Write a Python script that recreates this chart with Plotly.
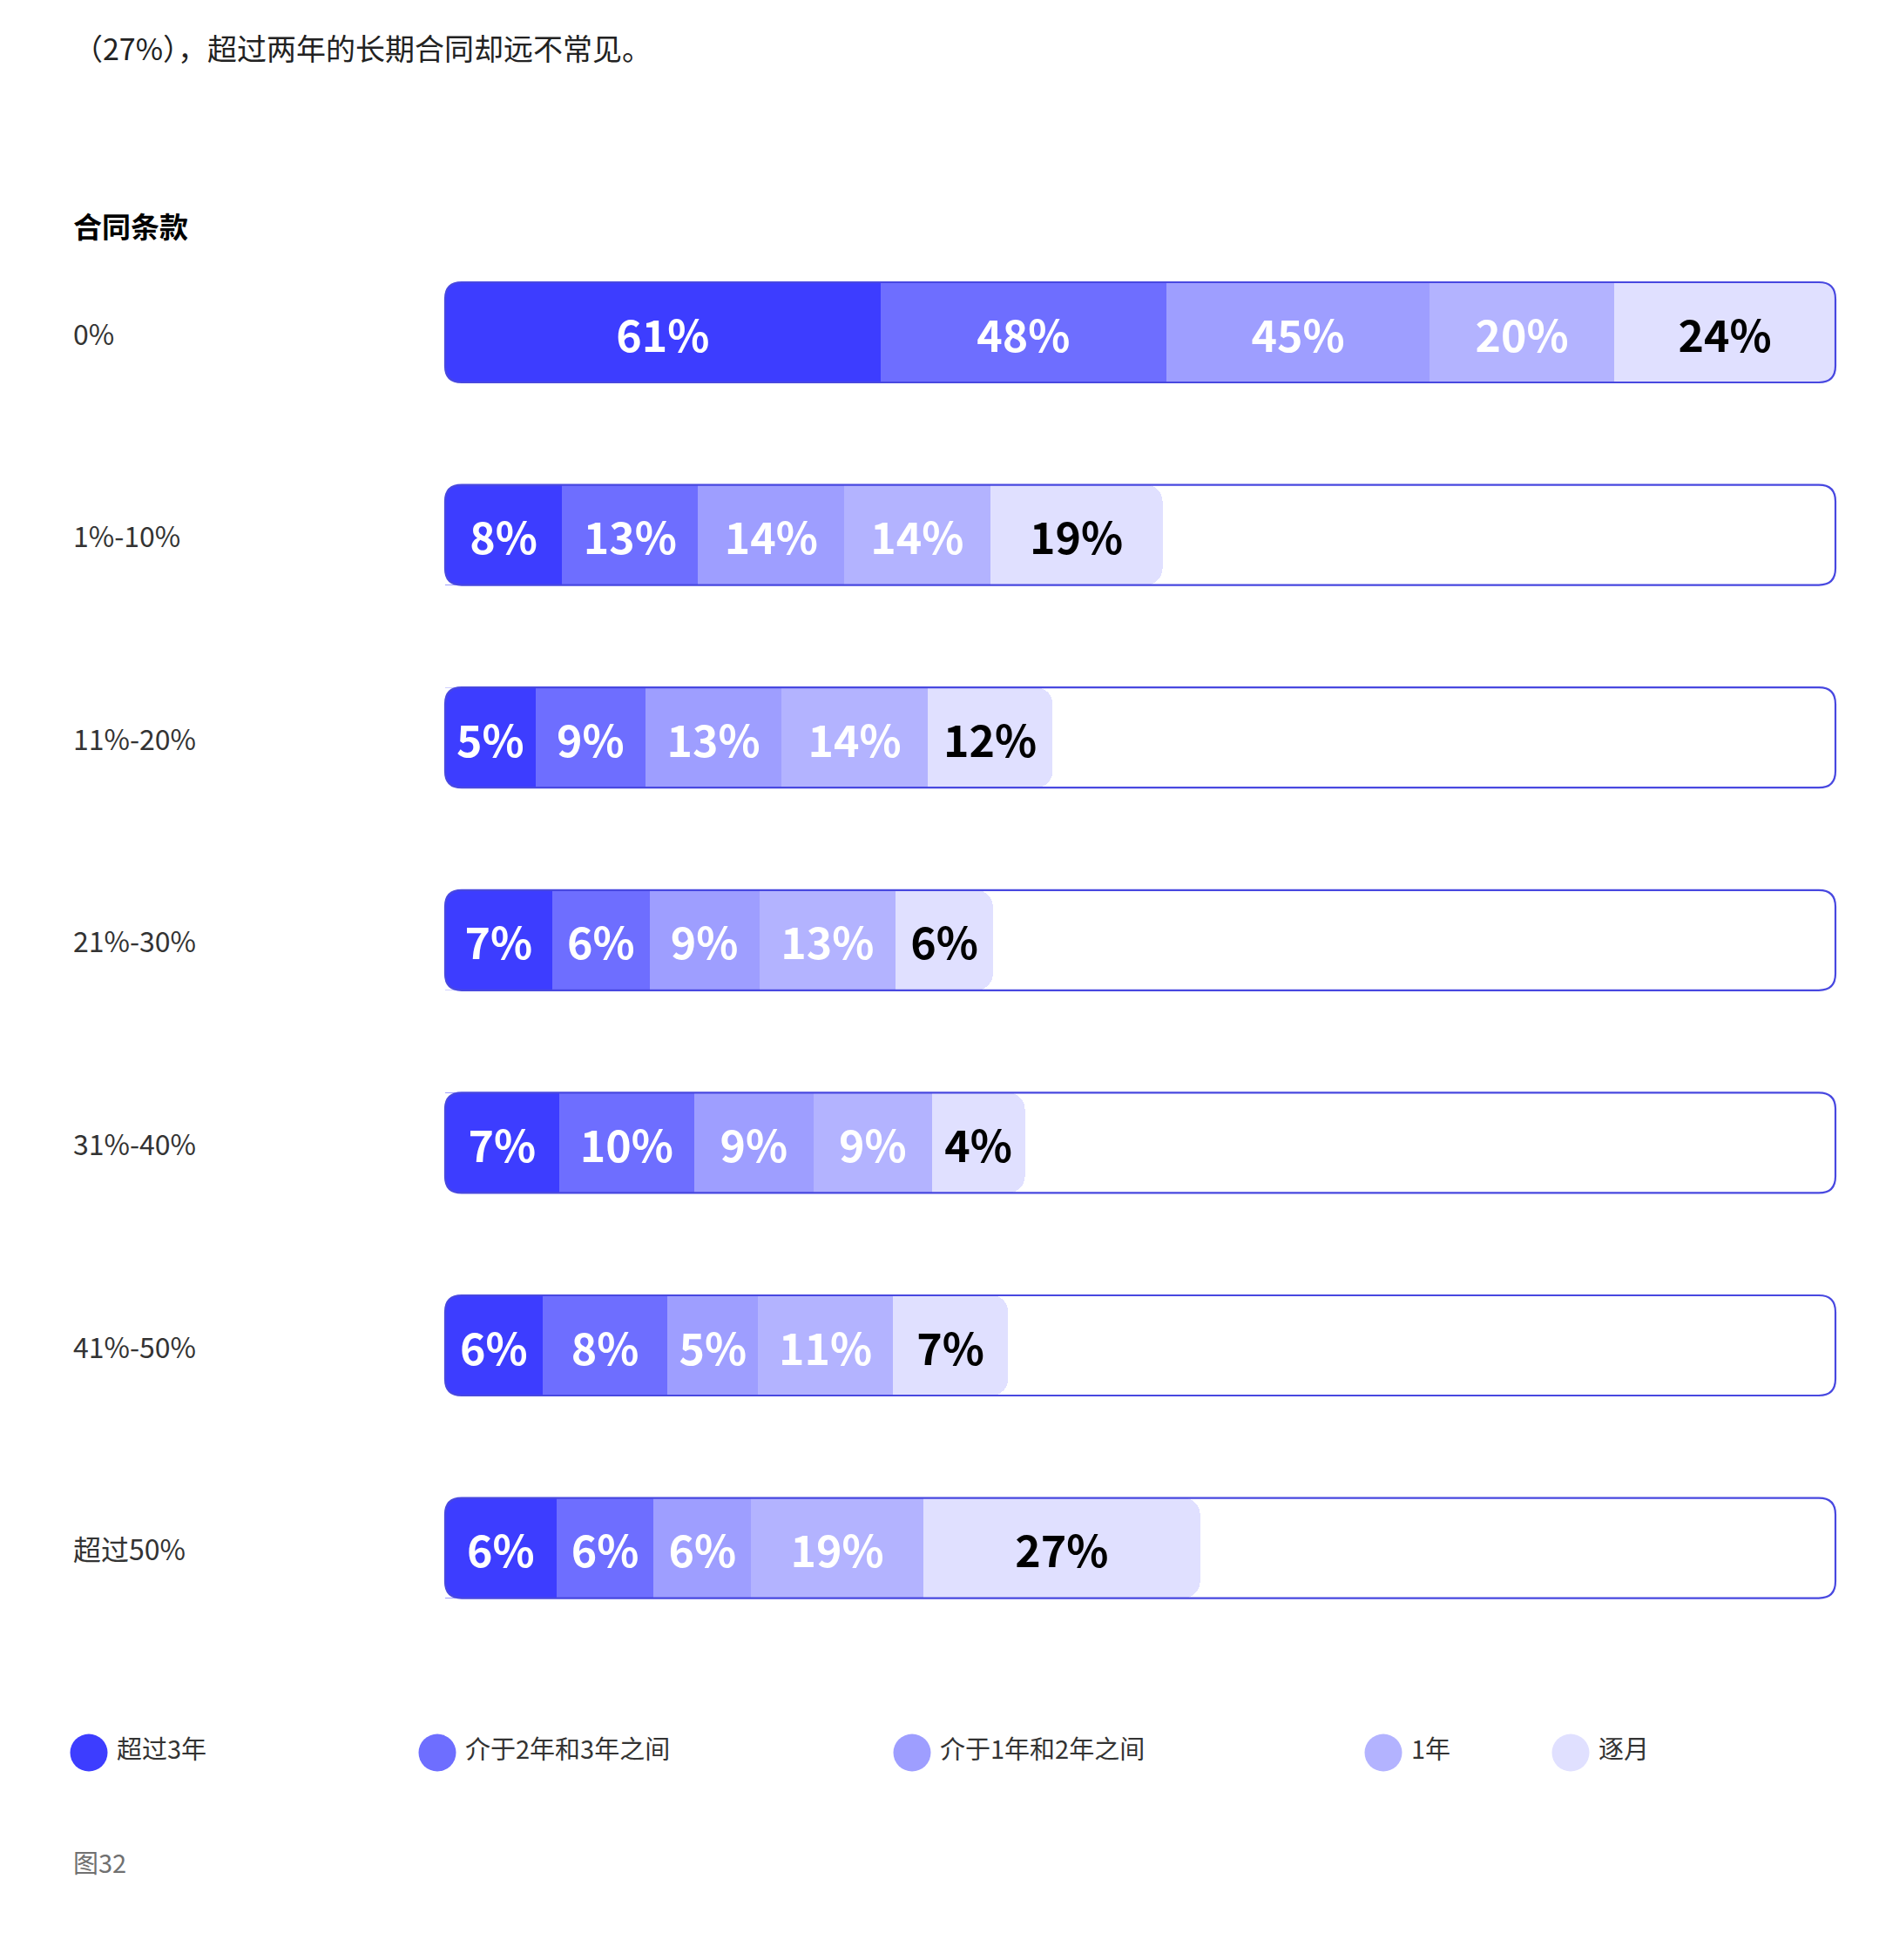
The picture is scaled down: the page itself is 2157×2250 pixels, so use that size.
import plotly.graph_objects as go

# ---------------- data ----------------
intro_text = "（27%），超过两年的长期合同却远不常见。"
section_title = "合同条款"
figure_note = "图32"

categories = ["0%", "1%-10%", "11%-20%", "21%-30%", "31%-40%", "41%-50%", "超过50%"]
series_names = ["超过3年", "介于2年和3年之间", "介于1年和2年之间", "1年", "逐月"]

# printed percentages (each series sums to ~100% over the categories)
pct_over3 = [61, 8, 5, 7, 7, 6, 6]
pct_2to3 = [48, 13, 9, 6, 10, 8, 6]
pct_1to2 = [45, 14, 13, 9, 9, 5, 6]
pct_1yr = [20, 14, 14, 13, 9, 11, 19]
pct_monthly = [24, 19, 12, 6, 4, 7, 27]

# segment lengths as drawn in the original (share of the full track, %)
len_over3 = [31.3, 8.4, 6.5, 7.7, 8.2, 7.0, 8.0]
len_2to3 = [20.6, 9.8, 7.9, 7.0, 9.7, 9.0, 7.0]
len_1to2 = [18.9, 10.5, 9.8, 7.9, 8.6, 6.5, 7.0]
len_1yr = [13.3, 10.5, 10.5, 9.8, 8.5, 9.7, 12.4]
len_monthly = [15.9, 12.4, 9.0, 7.0, 6.7, 8.3, 19.9]

track_max = 100

# ---------------- style / layout ----------------
W, H = 2157, 2250
FONT = "Noto Sans CJK SC"
colors = ["#3d3dff", "#6e6eff", "#9e9eff", "#b3b3ff", "#e0e0ff"]
label_colors = ["white", "white", "white", "white", "black"]
outline_color = "#4848e0"

TRACK_L, TRACK_R = 511, 2107
PAD = 0.4
ppu = (TRACK_R - TRACK_L) / track_max
ROW0, ROW_STEP = 381.5, 232.6
n = len(categories)
top_px = ROW0 - ROW_STEP / 2
bot_px = ROW0 + (n - 1) * ROW_STEP + ROW_STEP / 2
BAR_W = 115 / ROW_STEP
R_PX = 19
rx = R_PX / ppu
ry = R_PX / ROW_STEP
LEFT_PX = 82
legend_x = [102, 502, 1047, 1588, 1803]
LEGEND_TEXT_DX = 32
legend_y_px = 2012

pcts = [pct_over3, pct_2to3, pct_1to2, pct_1yr, pct_monthly]
lens = [len_over3, len_2to3, len_1to2, len_1yr, len_monthly]
rows = list(range(n))

fig = go.Figure()
for name, p, L, c, tc in zip(series_names, pcts, lens, colors, label_colors):
    fig.add_trace(go.Bar(
        y=rows, x=L, orientation="h", name=name,
        width=BAR_W,
        marker=dict(color=c, line=dict(width=0)),
        text=[f"{v}%" for v in p],
        textposition="inside", insidetextanchor="middle", textangle=0,
        constraintext="none",
        textfont=dict(family=FONT, size=50, color=tc, weight="bold"),
        hoverinfo="skip", showlegend=False, cliponaxis=False,
    ))

# custom legend (circles + labels)
fig.add_trace(go.Scatter(
    x=legend_x, y=[0.5] * len(series_names), xaxis="x2", yaxis="y2",
    mode="markers",
    marker=dict(size=43, color=colors, line=dict(width=0)),
    hoverinfo="skip", showlegend=False, cliponaxis=False,
))
fig.add_trace(go.Scatter(
    x=[v + LEGEND_TEXT_DX for v in legend_x], y=[0.5] * len(series_names),
    xaxis="x2", yaxis="y2", mode="text",
    text=series_names, textposition="middle right",
    textfont=dict(family=FONT, size=29, color="#333333"),
    hoverinfo="skip", showlegend=False, cliponaxis=False,
))

shapes = []
# white masks rounding the left end of each filled bar
for i in rows:
    y0, y1 = i - BAR_W / 2, i + BAR_W / 2
    for yc, ys in ((y0, y0 + ry), (y1, y1 - ry)):
        shapes.append(dict(
            type="path", xref="x", yref="y", layer="above",
            path=f"M 0,{yc} L {rx},{yc} Q 0,{yc} 0,{ys} Z",
            fillcolor="white", line=dict(width=0),
        ))
# rounded track outlines
for i in rows:
    y0, y1 = i - BAR_W / 2, i + BAR_W / 2
    X = track_max
    path = (f"M {rx},{y0} L {X - rx},{y0} Q {X},{y0} {X},{y0 + ry} "
            f"L {X},{y1 - ry} Q {X},{y1} {X - rx},{y1} L {rx},{y1} "
            f"Q 0,{y1} 0,{y1 - ry} L 0,{y0 + ry} Q 0,{y0} {rx},{y0} Z")
    shapes.append(dict(type="path", xref="x", yref="y", layer="above",
                       path=path, line=dict(color=outline_color, width=2.2),
                       fillcolor="rgba(0,0,0,0)"))

annotations = [
    dict(text=intro_text, xref="paper", yref="paper", x=LEFT_PX / W, y=1 - 54 / H,
         xanchor="left", yanchor="middle", showarrow=False,
         font=dict(family=FONT, size=34, color="#222222")),
    dict(text=section_title, xref="paper", yref="paper", x=LEFT_PX / W, y=1 - 259 / H,
         xanchor="left", yanchor="middle", showarrow=False,
         font=dict(family=FONT, size=33, color="black", weight="bold")),
    dict(text=figure_note, xref="paper", yref="paper", x=LEFT_PX / W, y=1 - 2137 / H,
         xanchor="left", yanchor="middle", showarrow=False,
         font=dict(family=FONT, size=29, color="#707070")),
]
for i, cat in enumerate(categories):
    annotations.append(dict(text=cat, xref="paper", yref="y", x=LEFT_PX / W, y=i,
                            xanchor="left", yanchor="middle", showarrow=False,
                            font=dict(family=FONT, size=32, color="#333333")))

fig.update_layout(
    width=W, height=H,
    margin=dict(l=0, r=0, t=0, b=0, pad=0),
    paper_bgcolor="white", plot_bgcolor="rgba(0,0,0,0)",
    barmode="stack", barcornerradius=R_PX,
    font=dict(family=FONT),
    xaxis=dict(domain=[(TRACK_L - PAD * ppu) / W, (TRACK_R + PAD * ppu) / W],
               range=[-PAD, track_max + PAD], visible=False, fixedrange=True),
    yaxis=dict(domain=[1 - bot_px / H, 1 - top_px / H],
               range=[n - 0.5, -0.5], visible=False, fixedrange=True),
    xaxis2=dict(domain=[0, 1], range=[0, W], visible=False, anchor="y2"),
    yaxis2=dict(domain=[1 - (legend_y_px + 30) / H, 1 - (legend_y_px - 30) / H],
                range=[0, 1], visible=False, anchor="x2"),
    shapes=shapes, annotations=annotations,
    showlegend=False,
)

fig.write_html("out.html")
